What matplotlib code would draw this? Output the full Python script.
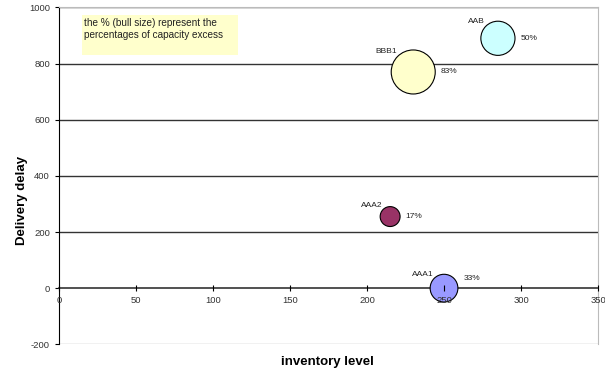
import numpy as np
import matplotlib
matplotlib.use('Agg')
import matplotlib.pyplot as plt
from matplotlib.patches import Rectangle

names = ['AAB', 'BBB1', 'AAA2', 'AAA1']
inventory = [285, 230, 215, 250]
delay = [890, 770, 255, 0]
excess = [50, 83, 17, 33]
colors = ['#CCFFFF', '#FFFFCC', '#993366', '#9999FF']
pct_dy = [0, 0, 0, 7]

plt.rcParams['font.family'] = ['Liberation Sans', 'DejaVu Sans']
plt.rcParams['axes.unicode_minus'] = False

fig = plt.figure(figsize=(6.05, 3.76), dpi=100)
ax = fig.add_axes([0.0975, 0.0843, 0.891, 0.896])

ax.set_xlim(0, 350)
ax.set_ylim(-200, 1000)
ax.set_yticks(np.arange(-200, 1001, 200))
ax.set_xticks(np.arange(0, 351, 50))

for y in range(200, 1001, 200):
    ax.axhline(y, color='#333333', lw=1.0, zorder=1)

ax.spines['left'].set_position(('data', 0))
ax.spines['left'].set_color('black')
ax.spines['bottom'].set_position(('data', 0))
ax.spines['bottom'].set_color('#333333')
ax.spines['bottom'].set_linewidth(1.2)
ax.spines['bottom'].set_zorder(2)
ax.spines['right'].set_color('#bbbbbb')
ax.spines['top'].set_color('#bbbbbb')

# outer border line at the bottom of the plot area
ax.axhline(-200, color='#bbbbbb', lw=1.0, zorder=0)

ax.tick_params(axis='y', direction='out', length=3, labelsize=6.8, colors='black', labelcolor='#333333')
ax.tick_params(axis='x', direction='inout', length=4, labelsize=6.8, labelcolor='#333333', pad=4)
ax.xaxis.set_zorder(4)

ax.scatter(inventory, delay, s=np.array(excess) * 12.1, c=colors,
           edgecolors='black', linewidths=0.8, zorder=3, clip_on=False)

for n, x, y, e, dy in zip(names, inventory, delay, excess, pct_dy):
    r = np.sqrt(e * 12.1) / 2
    ax.annotate(n, (x, y), xytext=(-r * 0.75, r * 0.75), textcoords='offset points',
                ha='right', va='bottom', fontsize=6, color='#222222')
    ax.annotate(f'{e}%', (x, y), xytext=(r + 4, dy), textcoords='offset points',
                ha='left', va='center', fontsize=6, color='#222222')

ax.add_patch(Rectangle((15, 830), 101, 143, fc='#FFFFCC', ec='none', zorder=2))
ax.text(16, 962, 'the % (bull size) represent the\npercentages of capacity excess',
        fontsize=7.2, va='top', ha='left', linespacing=1.25, color='#222222', zorder=3)

fig.text(0.036, 0.468, 'Delivery delay', fontsize=9.5, fontweight='bold',
         rotation=90, ha='center', va='center')
fig.text(0.542, 0.037, 'inventory level', fontsize=9.5, fontweight='bold',
         ha='center', va='center')

fig.savefig('out.png', dpi=100)
